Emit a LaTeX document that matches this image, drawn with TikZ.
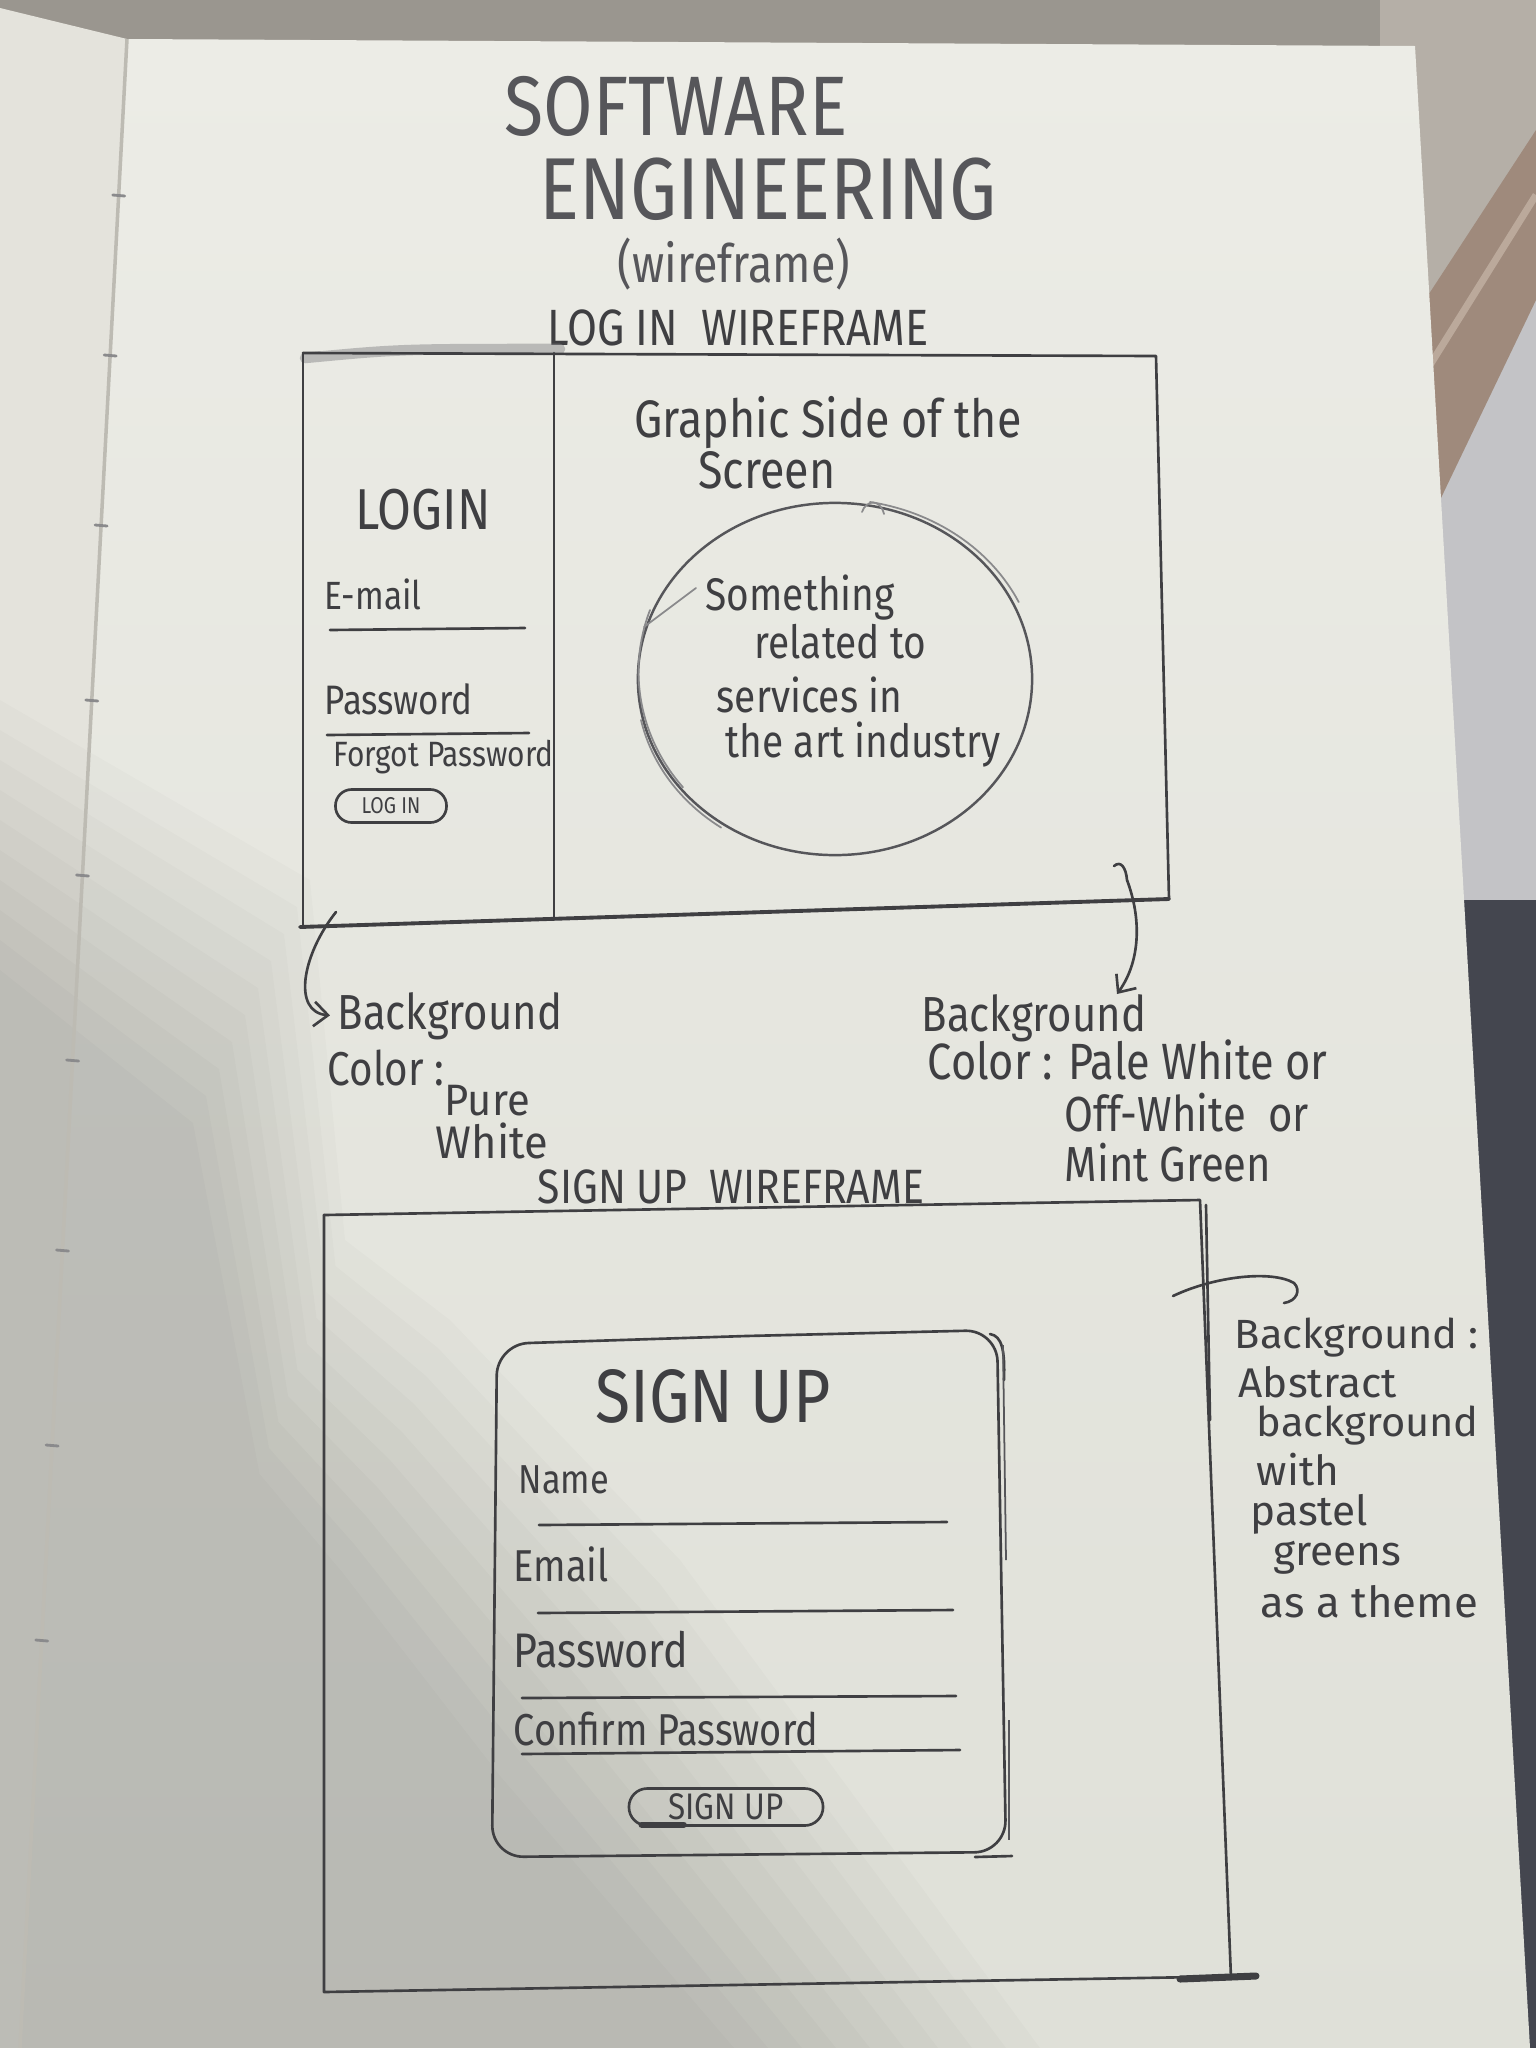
\documentclass[tikz,border=0pt]{standalone}
\usepackage{fontspec}
\newfontfamily\hand{Fira Sans}[FakeStretch=0.85]
\newfontfamily\handw{Fira Sans}[FakeStretch=0.95]
\newfontfamily\handn{Fira Sans}[FakeStretch=1.02]
\usetikzlibrary{arrows.meta,shapes.geometric}

\definecolor{surround}{HTML}{9A968F}
\definecolor{beige}{HTML}{B5AFA7}
\definecolor{wallgray}{HTML}{C3C3C6}
\definecolor{dusk}{HTML}{44464F}
\definecolor{wood}{HTML}{9F8A7C}
\definecolor{woodlt}{HTML}{BBA99B}
\definecolor{leftpage}{HTML}{E4E3DC}
\definecolor{paperhi}{HTML}{ECECE6}
\definecolor{paperlo}{HTML}{DFE0D8}
\definecolor{gutter}{HTML}{BDBBB3}
\definecolor{pencil}{HTML}{3F3F42}
\definecolor{pencilmid}{HTML}{56565A}
\definecolor{pencillt}{HTML}{8A8A8C}

\tikzset{
  hand/.style={inner sep=0pt, text=pencil, font={\hand\fontsize{#1}{#1}\selectfont}},
  handw/.style={inner sep=0pt, text=pencil, anchor=west, font={\handw\fontsize{#1}{#1}\selectfont}},
  note/.style={inner sep=0pt, text=pencil, anchor=west, font={\handn\fontsize{#1}{#1}\selectfont}},
  lbl/.style={hand=#1, anchor=west},
  pen/.style={draw=pencil, line width=0.75pt, line cap=round, line join=round},
  faint/.style={draw=pencillt, line width=0.5pt, line cap=round},
  barb/.style={-{Straight Barb[length=4pt,width=7pt]}},
  pill/.style={draw=pencil, line width=0.75pt, rounded corners=#1, inner sep=0pt},
  shadowlayer/.style={fill=black, opacity=0.017}
}

\begin{document}
\begin{tikzpicture}[x=0.01cm, y=-0.01cm]
\useasboundingbox (0,0) rectangle (1536,2048);

% ---- desk, wall and notebook ----
\fill[surround] (0,0) rectangle (1536,2048);
\fill[beige] (1380,0) rectangle (1536,320);
\fill[wallgray] (1380,300) rectangle (1536,920);
\fill[dusk] (1380,900) rectangle (1536,2048);
\fill[wood] (1425,300) -- (1536,130) -- (1536,300) -- (1440,500) -- cycle;
\draw[woodlt, line width=2pt] (1430,365) -- (1536,195);
\fill[leftpage] (0,8) -- (127,39) -- (20,2048) -- (0,2048) -- cycle;
\shade[top color=paperhi, bottom color=paperlo]
  (127,39) -- (1415,46) -- (1530,2048) -- (20,2048) -- cycle;

% soft shadow over the lower left of the page: stacked translucent layers
\foreach \t in {0,0.1,...,1.0}{
  \fill[shadowlayer] (0,{700+300*\t}) -- ({310-130*\t},{880+270*\t})
    -- ({345-95*\t},{1240+260*\t}) -- ({450-120*\t},{1320+280*\t})
    -- ({680-200*\t},{1560+240*\t}) -- ({1040-340*\t},2048) -- (0,2048) -- cycle;
}

% binding gutter and stitch holes
\draw[gutter, line width=1pt] (127,39) -- (20,2048);
\foreach \yy in {195,355,525,700,875,1060,1250,1445,1640}{
  \pgfmathsetmacro\gx{127-0.05326*(\yy-39)}
  \draw[pencillt, line width=0.8pt, line cap=round] (\gx-6,\yy) -- (\gx+6,\yy+1);
}

% ---- heading ----
\node[hand=24, text=pencilmid] (tSoft) at (676,106) {SOFTWARE};
\node[hand=25, text=pencilmid] (tEng)  at (768,189) {ENGINEERING};
\node[hand=15, text=pencilmid] (tWire) at (734,264) {(wireframe)};

% ---- log in wireframe ----
\node[hand=14.5] (loginHead) at (738,328) {LOG IN\ \ WIREFRAME};

\coordinate (lTL) at (303,353);
\coordinate (lTR) at (1156,356);
\coordinate (lBR) at (1169,899);
\coordinate (lBL) at (300,927);
\draw[pencillt, line width=3pt, opacity=0.5, line cap=round]
  (305,358) .. controls (400,349) .. (560,349);
\draw[pen] (lTL) -- (lTR) -- (lBR);
\draw[pen, line width=1.1pt] (lBL) -- (lBR);
\draw[pen] (lTL) -- (303,927);
\draw[pen] (554,353) -- (554,918);

% form column
\node[lbl=16.4] (loginTitle) at (355,510) {LOGIN};
\node[lbl=11.2] (lEmail) at (324,594) {E-mail};
\draw[pen] (330,630) -- (525,628);
\node[lbl=11.7] (lPass) at (324,699) {Password};
\draw[pen] (327,735) -- (529,733);
\node[lbl=10] (lForgot) at (333,757) {Forgot Password};
\node[pill=4.6pt, minimum width=1.11cm, minimum height=0.33cm,
      hand=6.5] (loginBtn) at (391,806) {LOG IN};

% graphic column
\node[hand=15] (gTitle1) at (828,423) {Graphic Side of the};
\node[hand=15] (gTitle2) at (767,470) {Screen};
\node[draw=pencilmid, line width=0.7pt, ellipse, minimum width=3.94cm,
      minimum height=3.52cm, inner sep=0pt] (circ) at (835,679) {};
\draw[faint] (870,502) arc[start angle=-80, end angle=-25, x radius=203, y radius=178];
\draw[faint] (650,610) arc[start angle=200, end angle=140, x radius=190, y radius=180];
\draw[faint] (641,720) arc[start angle=168, end angle=125, x radius=198, y radius=176];
\draw[faint] (862,512) .. controls (866,500) and (880,498) .. (884,514);
\draw[faint] (644,627) -- (696,588);
\node[lbl=13] (c1) at (705,598) {Something};
\node[lbl=13] (c2) at (754,642) {related to};
\node[lbl=13] (c3) at (716,695) {services in};
\node[lbl=13] (c4) at (725,745) {the art industry};

% ---- colour notes ----
\node[lbl=14] (bgL1) at (337,1016) {Background};
\node[lbl=13.5] (bgL2) at (327,1068) {Color :};
\node[handw=12.5] (bgL3) at (444,1101) {Pure};
\node[handw=13] (bgL4) at (435,1141) {White};

\node[lbl=14] (bgR1) at (921,1018) {Background};
\node[lbl=14.5] (bgR2) at (927,1060) {Color : Pale White or};
\node[lbl=14] (bgR3) at (1064,1113) {Off-White\ \ or};
\node[lbl=14] (bgR4) at (1064,1163) {Mint Green};

\coordinate (aLs) at (336,912);
\draw[pen, barb, shorten >=2pt] (aLs) .. controls (302,955) and (292,1012) .. (bgL1.west);

\coordinate (aRs) at (1114,866);
\coordinate (aRe) at (1117,994);
\draw[pen, barb] (aRs) .. controls (1121,860) and (1126,868) .. (1127,880)
  .. controls (1142,920) and (1140,962) .. (aRe);

% ---- sign up wireframe ----
\node[hand=13.7] (signHead) at (731,1187) {SIGN UP\ \ WIREFRAME};

\coordinate (sTL) at (324,1215);
\coordinate (sTR) at (1200,1200);
\coordinate (sBR) at (1256,1976);
\coordinate (sBL) at (324,1992);
\draw[pen] (sTL) -- (sTR) -- (1231,1978);
\draw[pen] (1206,1205) -- (1210,1420);
\draw[pen] (sTL) -- (sBL) -- (sBR);
\draw[pencil, line width=2pt, line cap=round] (1180,1979) -- (1256,1976);

% sign up card
\draw[pen, rounded corners=9pt] (746,1336) -- (997,1330) -- (1006,1852)
  -- (492,1857) -- (497,1344) -- (746,1336);
\draw[pen] (990,1334) .. controls (1002,1336) and (1005,1350) .. (1004,1380);
\draw[pencilmid, line width=0.5pt] (1003,1345) -- (1006,1560);
\draw[pencilmid, line width=0.5pt] (1009,1720) -- (1009,1840);
\draw[pen] (975,1857) -- (1012,1856);

\node[hand=21.5] (sTitle) at (713,1396) {SIGN UP};
\node[lbl=11.5] (sName) at (518,1480) {Name};
\draw[pen] (539,1525) -- (947,1522);
\node[lbl=12.7] (sEmail) at (513,1564) {Email};
\draw[pen] (538,1613) -- (953,1610);
\node[lbl=13.8] (sPass) at (513,1650) {Password};
\draw[pen] (522,1698) -- (956,1696);
\node[lbl=12.7] (sConf) at (513,1729) {Confirm Password};
\draw[pen] (522,1754) -- (960,1750);
\node[pill=5.2pt, minimum width=1.94cm, minimum height=0.37cm,
      hand=10.5] (signBtn) at (726,1807) {SIGN UP};
\draw[pencil, line width=1.8pt, line cap=round]
  ([xshift=4pt,yshift=0.6pt]signBtn.south west) -- ([xshift=-40pt,yshift=0.6pt]signBtn.south east);

% background note for the sign up screen
\node[note=11.6] (n1) at (1234,1338) {Background :};
\node[note=11.8] (n2) at (1238,1382) {Abstract};
\node[note=11.6] (n3) at (1256,1426) {background};
\node[note=11.8] (n4) at (1256,1470) {with};
\node[note=11.8] (n5) at (1250,1514) {pastel};
\node[note=11.8] (n6) at (1273,1558) {greens};
\node[note=12.2] (n7) at (1260,1602) {as a theme};

\coordinate (aSs) at (1173,1296);
\coordinate (aSe) at (1284,1303);
\draw[pen] (aSs) .. controls (1215,1276) and (1272,1270) .. (1294,1283)
  .. controls (1301,1290) and (1297,1301) .. (aSe);
\end{tikzpicture}
\end{document}
